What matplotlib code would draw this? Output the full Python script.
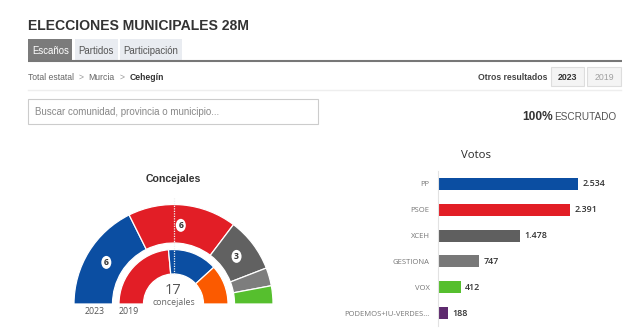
import matplotlib
matplotlib.use("Agg")
import matplotlib.pyplot as plt
from matplotlib.patches import Rectangle, Ellipse
import numpy as np

# ---- data ----
parties_2023 = ["PP", "PSOE", "XCEH", "GESTIONA", "VOX"]
seats_2023 = [6, 6, 3, 1, 1]
colors_2023 = ["#0b4ea2", "#e21e26", "#616161", "#7d7d7d", "#56bf2e"]
labels_shown_2023 = [True, True, True, False, False]

parties_2019 = ["PSOE", "PP", "Cs"]
seats_2019 = [8, 5, 4]
colors_2019 = ["#e21e26", "#0b4ea2", "#fb5a00"]

total_seats = 17

vote_parties = ["PP", "PSOE", "XCEH", "GESTIONA", "VOX", "PODEMOS+IU-VERDES..."]
votes = [2534, 2391, 1478, 747, 412, 188]
vote_colors = ["#0b4ea2", "#e21e26", "#5f5f5f", "#787878", "#56bf2e", "#5e2a6e"]

W, H = 640, 330
fig = plt.figure(figsize=(W / 100, H / 100), dpi=100)
fig.patch.set_facecolor("white")

# ---- overlay axes in pixel coordinates ----
bg = fig.add_axes([0, 0, 1, 1])
bg.set_xlim(0, W)
bg.set_ylim(H, 0)
bg.axis("off")

HEAD = "Liberation Sans"
bg.text(28, 25.5, "ELECCIONES MUNICIPALES 28M", fontsize=10.1, fontweight="bold",
        color="#333333", family=HEAD, va="center", ha="left")

# tabs
tabs = [("Escaños", 28.3, 72.3, True), ("Partidos", 75, 117.7, False),
        ("Participación", 120, 181.7, False)]
for name, x0, x1, active in tabs:
    bg.add_patch(Rectangle((x0, 39.3), x1 - x0, 21.4,
                           facecolor="#7b7b7b" if active else "#e9ecf1",
                           edgecolor="none"))
    bg.text((x0 + x1) / 2, 50.5, name, fontsize=6.9, family=HEAD,
            color="white" if active else "#555555", ha="center", va="center")
bg.plot([28.3, 621.7], [60.8, 60.8], color="#777777", lw=1.5, solid_capstyle="butt")

# breadcrumb
bc_y = 77.3
bg.text(28.3, bc_y, "Total estatal", fontsize=6.2, family=HEAD, color="#666666", va="center")
bg.text(78.3, bc_y, ">", fontsize=6.2, family=HEAD, color="#999999", va="center")
bg.text(88.3, bc_y, "Murcia", fontsize=6.2, family=HEAD, color="#666666", va="center")
bg.text(120, bc_y, ">", fontsize=6.2, family=HEAD, color="#999999", va="center")
bg.text(129.3, bc_y, "Cehegín", fontsize=6.2, family=HEAD, color="#333333",
        fontweight="bold", va="center")

bg.text(547.3, bc_y, "Otros resultados", fontsize=6.2, family=HEAD, color="#444444",
        fontweight="bold", va="center", ha="right")
for lab, x0, x1, active in [("2023", 550.7, 584, True), ("2019", 587.3, 620.7, False)]:
    bg.add_patch(Rectangle((x0, 67.3), x1 - x0, 18.7, facecolor="#f4f4f4",
                           edgecolor="#dddddd", lw=0.8))
    bg.text((x0 + x1) / 2, bc_y, lab, fontsize=6.3, family=HEAD,
            color="#333333" if active else "#a0a0a0",
            fontweight="bold" if active else "normal", ha="center", va="center")
bg.plot([28.3, 620.7], [89.5, 89.5], color="#eeeeee", lw=1)

# search box
bg.add_patch(Rectangle((28.3, 99.3), 290, 24.7, facecolor="white",
                       edgecolor="#cccccc", lw=0.8))
bg.text(35, 112, "Buscar comunidad, provincia o municipio...", fontsize=7.0,
        family=HEAD, color="#888888", va="center")

# scrutiny: place "100%" just left of "ESCRUTADO" using measured extent
t_es = bg.text(616.7, 117.3, "ESCRUTADO", fontsize=7.2, family=HEAD, color="#555555",
               va="center", ha="right")
fig.canvas.draw()
bb = t_es.get_window_extent(renderer=fig.canvas.get_renderer())
left_px = bb.x0
bg.text(left_px - 1.5, 117.3, "100%", fontsize=8.6, family=HEAD, color="#333333",
        fontweight="bold", va="center", ha="right")

# section titles
bg.text(173.5, 179, "Concejales", fontsize=7.6, family=HEAD, fontweight="bold",
        color="#333333", ha="center", va="center")
bg.text(476, 156, "Votos", fontsize=8.2, family="Open Sans", color="#2a2a2a",
        ha="center", va="center")

# ---- hemicycle ----
cx, cy, S = 173.5, 304.0, 220.0
axp = fig.add_axes([(cx - S / 2) / W, (H - cy - S / 2) / H, S / W, S / H])
axp.axis("off")

def half_pie(ax, vals, cols, radius, width):
    allvals = list(vals) + [sum(vals)]
    allcols = list(cols) + ["none"]
    wedges, _ = ax.pie(allvals, colors=allcols, startangle=180, counterclock=False,
                       radius=radius,
                       wedgeprops=dict(width=width, edgecolor="white", linewidth=0.9))
    wedges[-1].set_edgecolor("none")
    return wedges[:-1]

w23 = half_pie(axp, seats_2023, colors_2023, 0.995, 0.385)
w19 = half_pie(axp, seats_2019, colors_2019, 0.545, 0.245)
axp.set_xlim(-1.1, 1.1)
axp.set_ylim(-1.1, 1.1)
axp.set_aspect("equal")

for w, n, show in zip(w23, seats_2023, labels_shown_2023):
    if not show:
        continue
    ang = np.deg2rad((w.theta1 + w.theta2) / 2)
    r = 0.79
    x, y = r * np.cos(ang), r * np.sin(ang)
    axp.add_patch(Ellipse((x, y), 0.1, 0.13, facecolor="white", edgecolor="none", zorder=5))
    axp.text(x, y, str(n), fontsize=6.2, fontweight="bold", color="#333333",
             ha="center", va="center", zorder=6, family="Open Sans")

axp.plot([0, 0], [0.30, 1.07], color="#f0f0f0", lw=0.9, ls=(0, (1, 1)), zorder=4)

axp.text(0, 0.14, str(total_seats), fontsize=10.5, color="#555555",
         ha="center", va="center", family="Open Sans")
axp.text(0, 0.015, "concejales", fontsize=6.3, color="#666666",
         ha="center", va="center", family="Open Sans")
axp.text(-0.785, -0.07, "2023", fontsize=6.3, color="#555555", ha="center",
         va="center", family="Open Sans")
axp.text(-0.445, -0.07, "2019", fontsize=6.3, color="#555555", ha="center",
         va="center", family="Open Sans")

# ---- bar chart ----
axb = fig.add_axes([438 / W, (H - 326) / H, 180 / W, 155 / H])
ypos = np.arange(len(votes))
axb.barh(ypos, votes, height=0.46, color=vote_colors)
axb.set_ylim(len(votes) - 0.5, -0.5)
axb.set_xlim(0, 2534 * 180 / 140)
axb.set_yticks(ypos)
axb.set_yticklabels(vote_parties, fontsize=5.5, color="#777777", family="Open Sans")
axb.tick_params(axis="y", length=0, pad=6)
axb.set_xticks([])
for s in ["top", "right", "bottom"]:
    axb.spines[s].set_visible(False)
axb.spines["left"].set_color("#e2e2e2")
axb.spines["left"].set_linewidth(0.8)
axb.patch.set_alpha(0)
for yv, v in zip(ypos, votes):
    axb.annotate(f"{v:,}".replace(",", "."), (v, yv), xytext=(3, 0),
                 textcoords="offset points", va="center", ha="left",
                 fontsize=6.4, color="#333333", fontweight="semibold", family="Open Sans")

fig.savefig("out.png", dpi=100, facecolor="white")
